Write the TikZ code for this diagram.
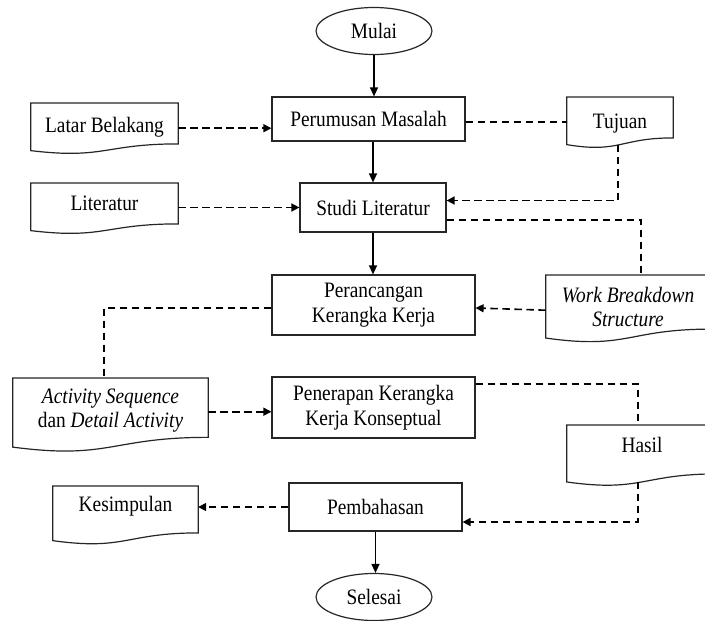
\documentclass[tikz,border=0pt]{standalone}
\usepackage{fontspec}
\setmainfont[FakeStretch=0.88]{Liberation Serif}
\usetikzlibrary{calc,arrows.meta,shapes.geometric}
\newcommand\fs{\fontsize{22}{24.5}\selectfont}
\newcommand\docout[2]{%
  \draw[docline] (#1.north west) -- (#1.north east) -- ($(#1.north east)+(0,{0.802*#2})$)
    .. controls ($(#1.north west)!0.5!(#1.north east)+(0,{0.802*#2})$)
       and ($(#1.north west)!0.5!(#1.north east)+(0,{1.107*#2})$)
    .. ($(#1.north west)+(0,{0.934*#2})$) -- cycle;}
\begin{document}
\begin{tikzpicture}[x=1pt,y=-1pt,
  box/.style={draw=black!85, line width=1.2pt, rectangle, inner sep=0pt, font=\fs, align=center},
  term/.style={draw=black!85, line width=1.2pt, ellipse, inner sep=0pt, minimum width=116pt, minimum height=47pt, font=\fs},
  docnode/.style={rectangle, inner sep=0pt, font=\fs, align=center, anchor=north},
  docline/.style={draw=black!85, line width=1.2pt},
  flow/.style={line width=1.3pt, -{Triangle[length=9pt,width=8pt]}},
  dflow/.style={line width=1.6pt, dash pattern=on 7.5pt off 4.5pt, -{Triangle[length=8pt,width=8pt]}},
  dline/.style={line width=1.6pt, dash pattern=on 7.5pt off 4.5pt}]
\useasboundingbox (0,0) rectangle (705,621);
\fill[white] (0,0) rectangle (705,621);

% nodes
\node[term] (mulai) at (374,31) {Mulai};
\node[box, minimum width=193pt, minimum height=44pt] (perumusan) at (368.5,119) {Perumusan Masalah};
\node[docnode, minimum width=147pt, minimum height=48pt] (latar) at (104.5,103) {Latar Belakang};
\node[docnode, minimum width=106pt, minimum height=52pt] (tujuan) at (620,97) {Tujuan};
\node[box, minimum width=146pt, minimum height=49pt] (studi) at (373,207.5) {Studi Literatur};
\node[docnode, minimum width=147pt, minimum height=40pt] (literatur) at (104.5,183) {Literatur};
\node[box, minimum width=203pt, minimum height=60pt] (perancangan) at (373.5,305) {Perancangan\\Kerangka Kerja};
\node[docnode, minimum width=164pt, minimum height=64pt] (wbs) at (628,275) {\textit{Work Breakdown}\\\textit{Structure}};
\node[docnode, minimum width=195pt, minimum height=65pt] (activity) at (110.5,378) {\textit{Activity Sequence}\\dan \textit{Detail Activity}};
\node[box, minimum width=203pt, minimum height=61pt] (penerapan) at (373.5,407.5) {Penerapan Kerangka\\Kerja Konseptual};
\node[docnode, minimum width=150pt, minimum height=39pt] (hasil) at (642,425) {Hasil};
\node[docnode, minimum width=145pt, minimum height=40pt] (kesimpulan) at (125.5,486) {Kesimpulan};
\node[box, minimum width=173pt, minimum height=48pt] (pembahasan) at (375.5,507) {Pembahasan};
\node[term] (selesai) at (374,597) {Selesai};

% document outlines
\docout{latar}{51}
\docout{tujuan}{51}
\docout{literatur}{51}
\docout{wbs}{67.5}
\docout{activity}{74}
\docout{hasil}{61}
\docout{kesimpulan}{58.5}

% wave attachment points
\coordinate (tujb) at ($(tujuan.north)+(-2,{0.933*51})$);
\coordinate (hasb) at ($(hasil.north)+(-4,{0.93*61})$);

% solid flow
\draw[flow] (mulai.south) -- (mulai.south |- perumusan.north);
\draw[flow] (studi.north |- perumusan.south) -- (studi.north);
\draw[flow] (studi.south) -- (studi.south |- perancangan.north);
\draw[flow] (pembahasan.south) -- (pembahasan.south |- selesai.north);

% dashed links
\draw[dflow] ([yshift=-1pt]latar.east) -- ([yshift=-1pt]latar.east -| perumusan.west);
\draw[dline] ([yshift=-3pt]perumusan.east) -- ([yshift=-3pt]perumusan.east -| tujuan.west);
\draw[dflow] (tujb) |- ([yshift=7pt]studi.east);
\draw[dflow] (studi.west -| literatur.east) -- (studi.west);
\draw[dline] ([yshift=-12.5pt]studi.east) -| ([xshift=13pt]wbs.north);
\draw[dflow] ([yshift=-3pt]wbs.west) -- ([yshift=-3pt]perancangan.east);
\draw[dline] ([yshift=-3pt]perancangan.west) -| ([xshift=-6.5pt]activity.north);
\draw[dflow] ([yshift=-1pt]activity.east) -- ([yshift=-1pt]activity.east -| penerapan.west);
\draw[dline] ([yshift=23.5pt]penerapan.east) -| ([xshift=-4pt]hasil.north);
\draw[dflow] (hasb) |- ([yshift=-15pt]pembahasan.east);
\draw[dflow] (pembahasan.west) -- (pembahasan.west -| kesimpulan.east);
\end{tikzpicture}
\end{document}
